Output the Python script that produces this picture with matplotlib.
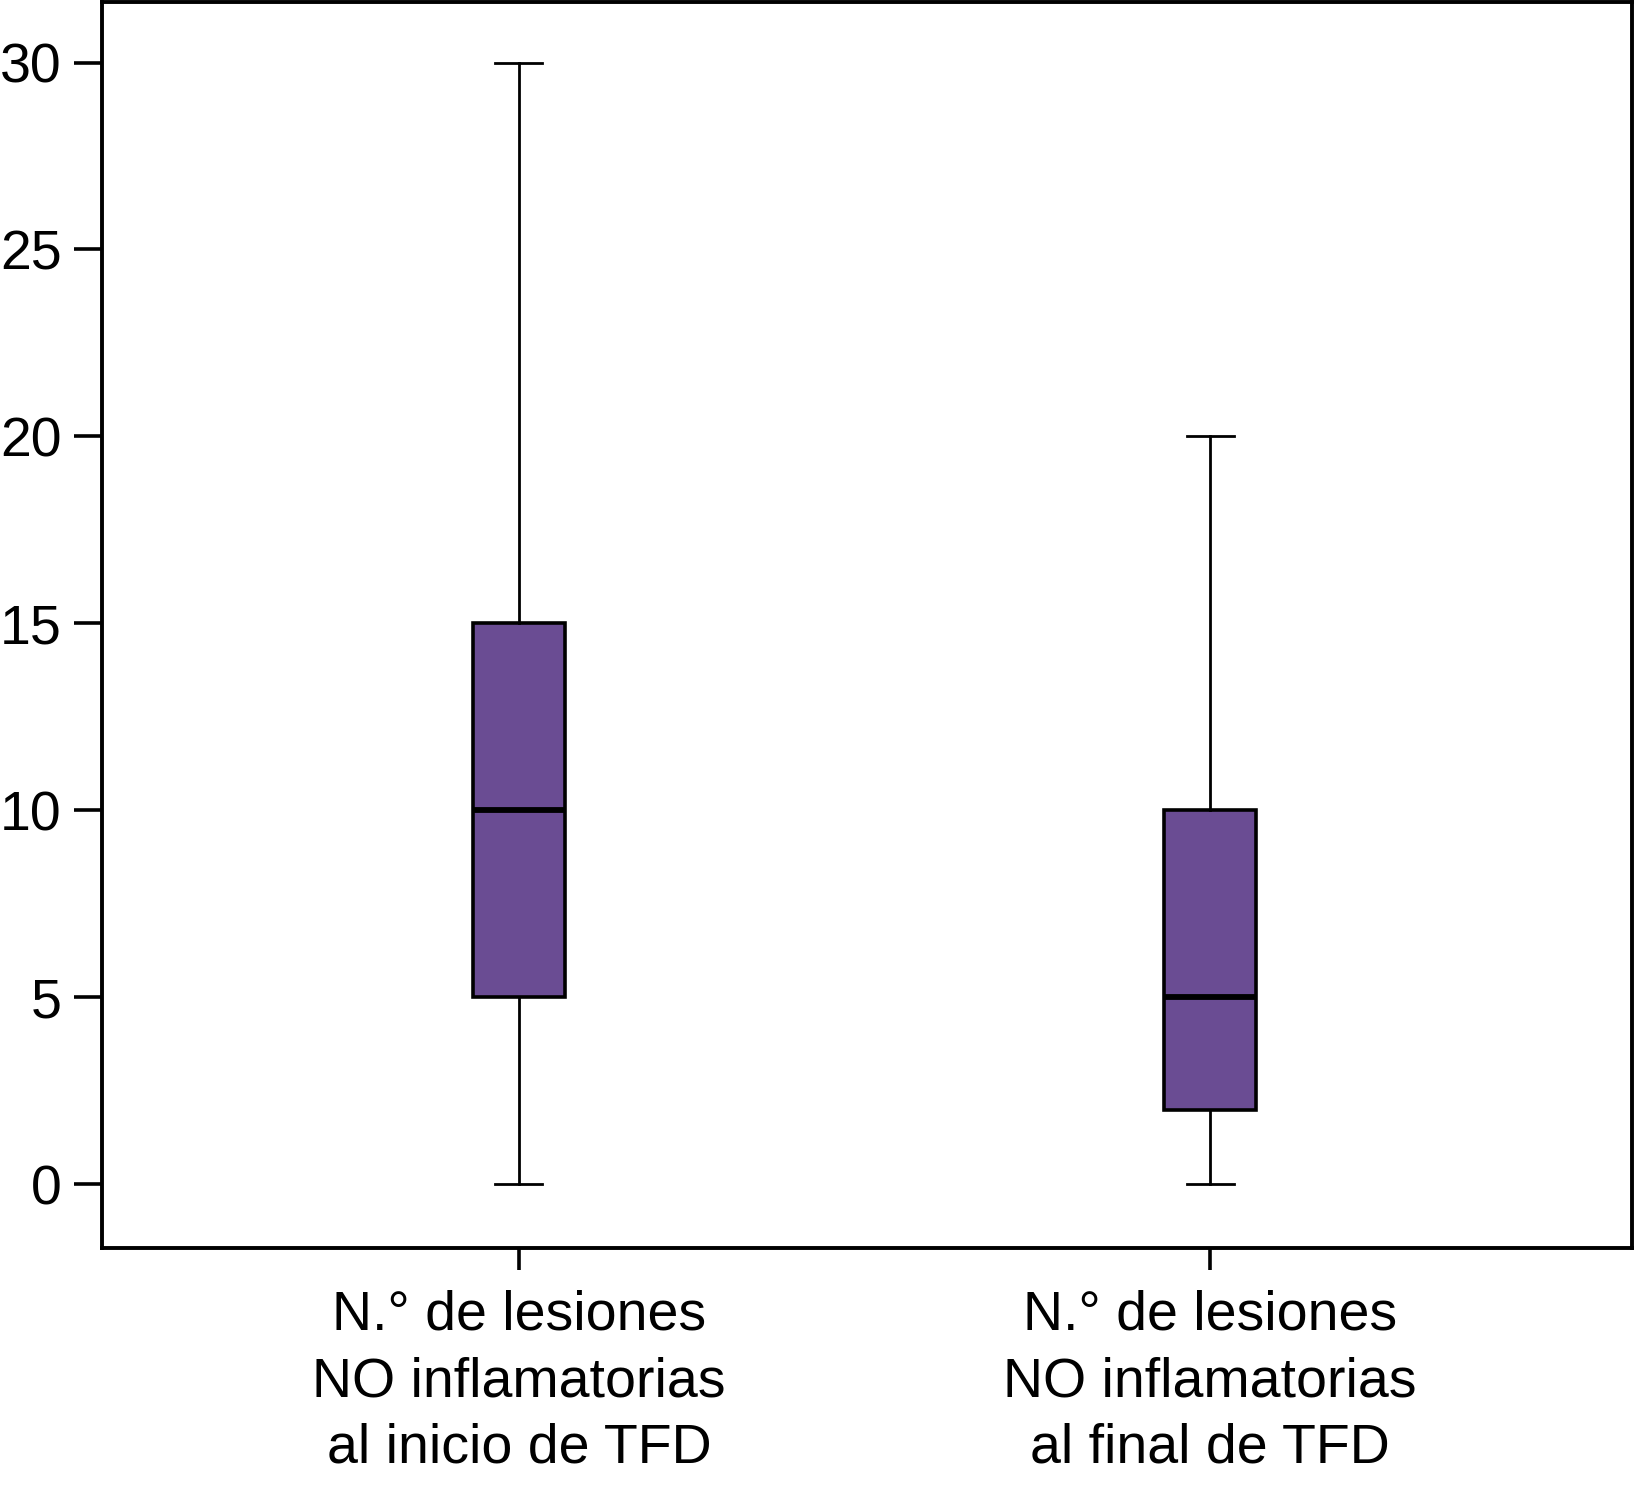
import matplotlib
matplotlib.use("Agg")
import matplotlib.pyplot as plt

plt.rcParams['font.family'] = ['Liberation Sans', 'DejaVu Sans']

labels = ["N.° de lesiones\nNO inflamatorias\nal inicio de TFD",
          "N.° de lesiones\nNO inflamatorias\nal final de TFD"]
whislo = [0, 0]
q1 = [5, 2]
med = [10, 5]
q3 = [15, 10]
whishi = [30, 20]
yticks = [0, 5, 10, 15, 20, 25, 30]

stats = []
for i in range(len(labels)):
    stats.append({'whislo': whislo[i], 'q1': q1[i], 'med': med[i],
                  'q3': q3[i], 'whishi': whishi[i], 'fliers': [],
                  'label': labels[i]})

fig = plt.figure(figsize=(16.35, 14.85), dpi=100)
ax = fig.add_axes([0.0624, 0.1596, 0.9356, 0.8391])

ax.bxp(stats, positions=[1, 2], widths=0.134, patch_artist=True,
       showfliers=False,
       boxprops=dict(facecolor='#6a4c93', edgecolor='black', linewidth=2.6),
       medianprops=dict(color='black', linewidth=4.2),
       whiskerprops=dict(color='black', linewidth=2.0),
       capprops=dict(color='black', linewidth=2.0),
       capwidths=0.068)

ax.set_xlim(0.397, 2.61)
ax.set_ylim(-1.7, 31.62)
ax.set_yticks(yticks)
ax.set_yticklabels([str(t) for t in yticks])

for sp in ax.spines.values():
    sp.set_linewidth(2.8)

ax.tick_params(axis='y', length=20, width=2.6, pad=9, labelsize=40)
ax.tick_params(axis='x', length=16, width=2.6, pad=14, labelsize=40)
for t in ax.get_xticklabels():
    t.set_linespacing(1.36)

fig.savefig("out.png", dpi=100)
